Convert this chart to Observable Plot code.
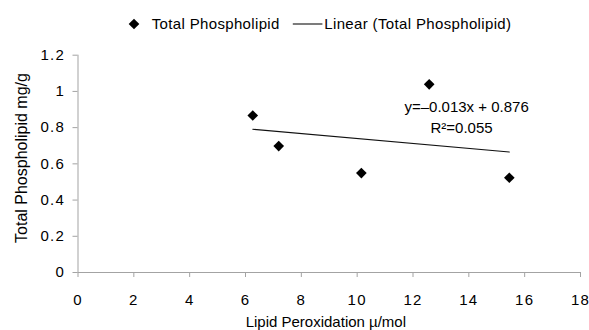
<!DOCTYPE html>
<html>
<head>
<meta charset="utf-8">
<script src="https://cdn.jsdelivr.net/npm/d3@7"></script>
<script src="https://cdn.jsdelivr.net/npm/@observablehq/plot@0.6"></script>
<style>
  html, body { margin: 0; padding: 0; background: white; }
  #chart svg { display: block; }
  g[aria-label="x-axis tick label"] text, g[aria-label="y-axis tick label"] text { letter-spacing: 1.2px; }
  g[aria-label="equation"] text { letter-spacing: 0.8px; }
  g[aria-label="x-title"] text { letter-spacing: 0.45px; }
  g[aria-label="y-title"] text { letter-spacing: 0.4px; }
  .legend text { letter-spacing: 0.35px; }
</style>
</head>
<body>
<div id="chart"></div>
<script>
// Data
const lipidPeroxidation = [6.26, 7.19, 10.15, 12.58, 15.45];
const totalPhospholipid = [0.867, 0.698, 0.549, 1.039, 0.523];
const xTicks = [0, 2, 4, 6, 8, 10, 12, 14, 16, 18];
const yTicks = [0, 0.2, 0.4, 0.6, 0.8, 1, 1.2];
const seriesName = "Total Phospholipid";
const trendName = "Linear (Total Phospholipid)";
const equationText = "y=\u20130.013x + 0.876";
const rSquaredText = "R\u00B2=0.055";
const xTitle = "Lipid Peroxidation \u00B5/mol";
const yTitle = "Total Phospholipid mg/g";

const data = lipidPeroxidation.map((x, i) => ({x, y: totalPhospholipid[i]}));
const axisGray = "#a3a3a3";
const font = "'Liberation Sans', Arial, Helvetica, sans-serif";

const chart = Plot.plot({
  width: 589,
  height: 330,
  marginLeft: 77.5,
  marginRight: 9,
  marginTop: 54.7,
  marginBottom: 58,
  x: {domain: [0, 18]},
  y: {domain: [0, 1.2]},
  style: {fontFamily: font, fontSize: "15px", background: "white", color: "black", overflow: "visible"},
  marks: [
    Plot.ruleY([0], {stroke: axisGray}),
    Plot.ruleX([0], {stroke: axisGray}),
    Plot.axisX({ticks: xTicks, tickSize: 5, tickPadding: 17, stroke: axisGray, fill: "black", label: null, tickFormat: d => String(d), fontSize: 15}),
    Plot.axisY({ticks: yTicks, tickSize: 5, tickPadding: 8, stroke: axisGray, fill: "black", label: null, tickFormat: d => String(d), fontSize: 15}),
    Plot.linearRegressionY(data, {x: "x", y: "y", stroke: "#111", strokeWidth: 1.1, ci: 0}),
    Plot.dot(data, {x: "x", y: "y", symbol: "diamond2", r: 4.8, fill: "black", stroke: "none"}),
    Plot.text([equationText], {x: 13.92, y: 0.9156, fontSize: 15, fill: "black", textAnchor: "middle", ariaLabel: "equation"}),
    Plot.text([rSquaredText], {x: 13.74, y: 0.7996, fontSize: 15, fill: "black", textAnchor: "middle", ariaLabel: "equation"}),
    Plot.text([xTitle], {frameAnchor: "bottom", textAnchor: "middle", lineAnchor: "middle", dx: -3.4, dy: 49.6, fontSize: 15, fill: "black", ariaLabel: "x-title"}),
    Plot.text([yTitle], {frameAnchor: "left", textAnchor: "middle", lineAnchor: "middle", rotate: -90, dx: -55.9, dy: -5.85, fontSize: 16, fill: "black", ariaLabel: "y-title"})
  ]
});

// Legend (above the plot area)
const svg = d3.select(chart);
const lg = svg.append("g").attr("class", "legend").attr("font-family", font).attr("font-size", 15).attr("fill", "black").attr("text-anchor", "start");
lg.append("path")
  .attr("d", d3.symbol(d3.symbolDiamond2, Math.PI * 4.8 * 4.8)())
  .attr("transform", "translate(134,24)")
  .attr("fill", "black");
lg.append("text").attr("x", 151.7).attr("y", 29).text(seriesName);
lg.append("line").attr("x1", 292.8).attr("x2", 322.4).attr("y1", 24).attr("y2", 24).attr("stroke", "#111").attr("stroke-width", 1.1);
lg.append("text").attr("x", 324.3).attr("y", 29).text(trendName);

document.getElementById("chart").appendChild(chart);
</script>
</body>
</html>
